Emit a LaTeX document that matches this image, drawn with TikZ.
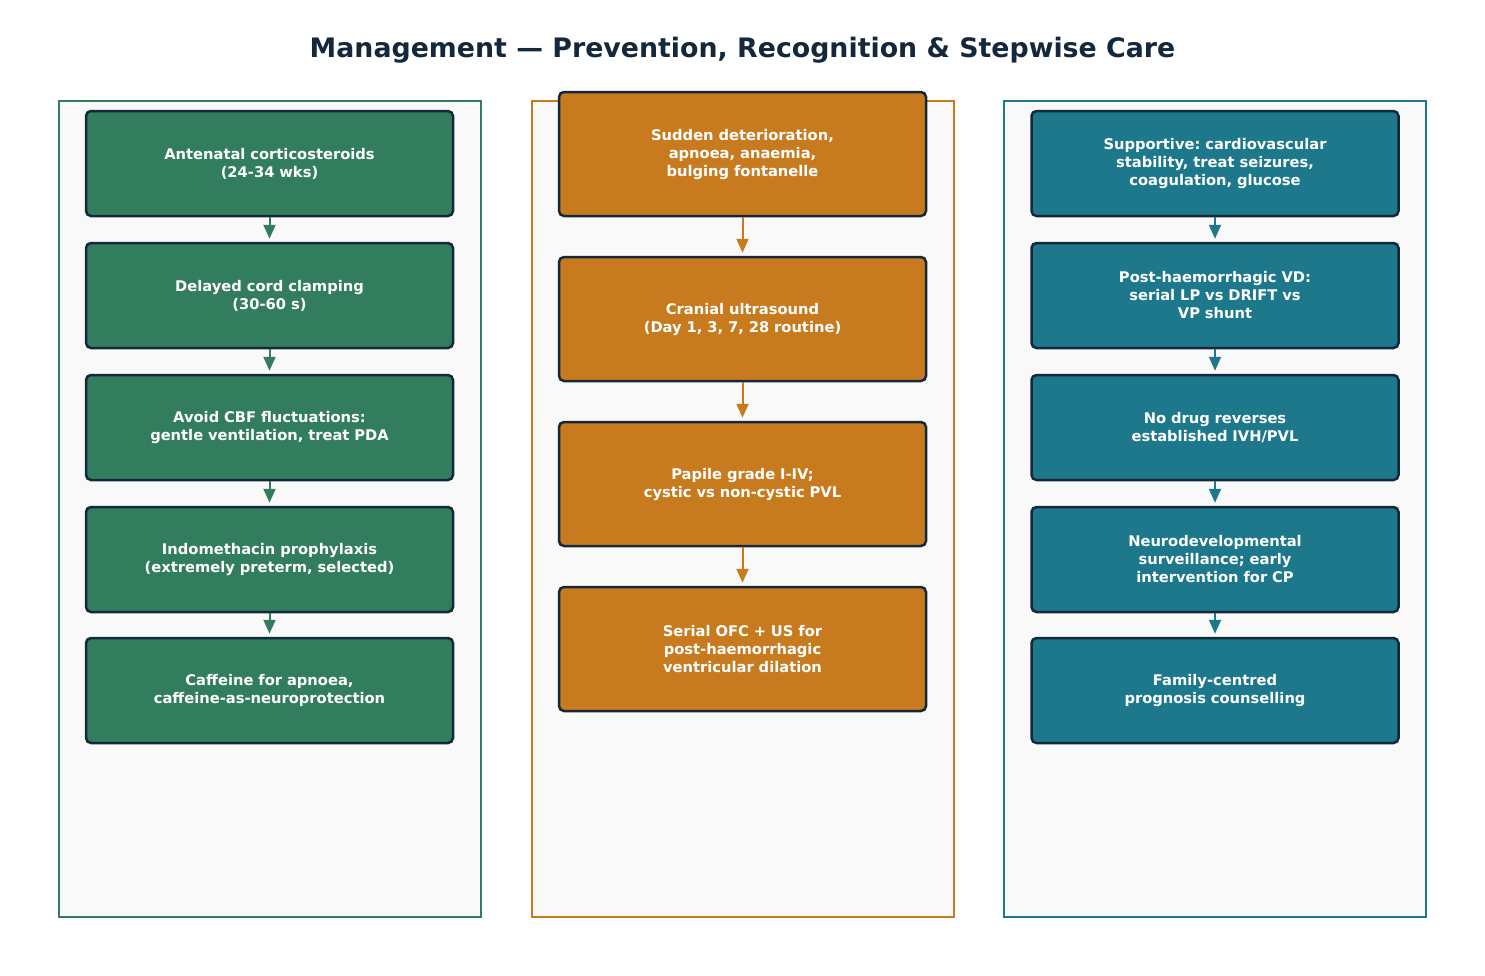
\documentclass[tikz,border=0pt]{standalone}
\usepackage{fontspec}
\setmainfont{DejaVu Sans}
\frenchspacing
\usetikzlibrary{positioning}
\usetikzlibrary{arrows.meta}

\definecolor{prevgreen}{HTML}{317D5D}
\definecolor{recorange}{HTML}{C77A1E}
\definecolor{careteal}{HTML}{1C788A}
\definecolor{navy}{HTML}{14283C}
\definecolor{panelbg}{HTML}{F9F9F9}

\tikzset{
  panel/.style={rectangle, fill=panelbg, line width=2pt, minimum width=422pt, minimum height=816pt},
  box/.style={rectangle, rounded corners=5pt, draw=navy, line width=2.5pt, minimum width=367pt, text width=350pt, align=center, text=white, font=\fontsize{14.7}{18}\selectfont\bfseries},
  flow/.style={line width=2pt, -{Triangle[length=14pt,width=12pt]}, shorten >=3pt}
}

\begin{document}
\begin{tikzpicture}[x=1pt,y=-1pt]
\useasboundingbox (0,0) rectangle (1485,975);

\node[font=\fontsize{26.8}{30}\selectfont\bfseries, text=navy] (title) at (742.5,50) {Management — Prevention, Recognition \& Stepwise Care};

% panels
\node[panel, draw=prevgreen] (pleft) at (270,509) {};
\node[panel, draw=recorange] (pmid) at (742.5,509) {};
\node[panel, draw=careteal] (pright) at (1215,509) {};

% prevention
\node[box, fill=prevgreen, minimum height=105pt] (p1) at (269.5,163.5) {Antenatal corticosteroids\\(24-34 wks)};
\node[box, fill=prevgreen, minimum height=105pt] (p2) at (269.5,295.5) {Delayed cord clamping\\(30-60 s)};
\node[box, fill=prevgreen, minimum height=105pt] (p3) at (269.5,427.5) {Avoid CBF fluctuations:\\gentle ventilation, treat PDA};
\node[box, fill=prevgreen, minimum height=105pt] (p4) at (269.5,559.5) {Indomethacin prophylaxis\\(extremely preterm, selected)};
\node[box, fill=prevgreen, minimum height=105pt] (p5) at (269.5,690.5) {Caffeine for apnoea,\\caffeine-as-neuroprotection};

\draw[flow, prevgreen] (p1) -- (p2);
\draw[flow, prevgreen] (p2) -- (p3);
\draw[flow, prevgreen] (p3) -- (p4);
\draw[flow, prevgreen] (p4) -- (p5);

% recognition
\node[box, fill=recorange, minimum height=124pt] (r1) at (742.5,154) {Sudden deterioration,\\apnoea, anaemia,\\bulging fontanelle};
\node[box, fill=recorange, minimum height=124pt] (r2) at (742.5,319) {Cranial ultrasound\\(Day 1, 3, 7, 28 routine)};
\node[box, fill=recorange, minimum height=124pt] (r3) at (742.5,484) {Papile grade I-IV;\\cystic vs non-cystic PVL};
\node[box, fill=recorange, minimum height=124pt] (r4) at (742.5,649) {Serial OFC + US for\\post-haemorrhagic\\ventricular dilation};

\draw[flow, recorange] (r1) -- (r2);
\draw[flow, recorange] (r2) -- (r3);
\draw[flow, recorange] (r3) -- (r4);

% stepwise care
\node[box, fill=careteal, minimum height=105pt] (c1) at (1215,163.5) {Supportive: cardiovascular\\stability, treat seizures,\\coagulation, glucose};
\node[box, fill=careteal, minimum height=105pt] (c2) at (1215,295.5) {Post-haemorrhagic VD:\\serial LP vs DRIFT vs\\VP shunt};
\node[box, fill=careteal, minimum height=105pt] (c3) at (1215,427.5) {No drug reverses\\established IVH/PVL};
\node[box, fill=careteal, minimum height=105pt] (c4) at (1215,559.5) {Neurodevelopmental\\surveillance; early\\intervention for CP};
\node[box, fill=careteal, minimum height=105pt] (c5) at (1215,690.5) {Family-centred\\prognosis counselling};

\draw[flow, careteal] (c1) -- (c2);
\draw[flow, careteal] (c2) -- (c3);
\draw[flow, careteal] (c3) -- (c4);
\draw[flow, careteal] (c4) -- (c5);
\end{tikzpicture}
\end{document}
